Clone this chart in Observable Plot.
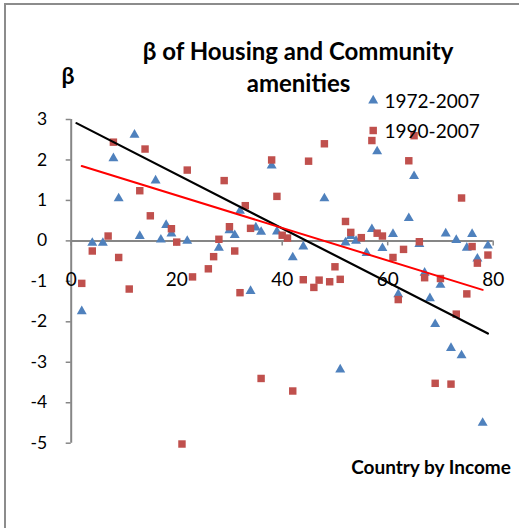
<!DOCTYPE html>
<html>
<head>
<meta charset="utf-8">
<script src="https://cdn.jsdelivr.net/npm/d3@7"></script>
<script src="https://cdn.jsdelivr.net/npm/@observablehq/plot@0.6"></script>
<style>
  html, body { margin: 0; padding: 0; background: #fff; overflow: hidden; }
  #wrap { position: relative; width: 519px; height: 528px; overflow: hidden; }
  #frame { position: absolute; left: 4px; top: 3px; width: 540px; height: 560px; border: 2px solid #8c8c8c; box-sizing: border-box; }
  #chart { position: absolute; left: 0; top: 0; }
</style>
</head>
<body>
<div id="wrap"><div id="frame"></div><div id="chart"></div></div>
<script>
// ---- data ----
const xTicks = [0, 20, 40, 60, 80];
const yTicks = [3, 2, 1, 0, -1, -2, -3, -4, -5];

const blueX = [2,4,6,8,9,12,13,16,17,18,19,22,28,30,31,32,34,35,36,38,39,42,44,48,51,52,53,54,56,57,58,59,61,62,64,65,66,67,68,69,70,71,72,73,74,75,76,77,78,79];
const blueY = [-1.74,-0.05,-0.05,2.04,1.05,2.62,0.12,1.49,0.03,0.39,0.18,0.0,-0.17,0.26,0.14,0.74,-1.24,0.33,0.22,1.86,0.23,-0.41,-0.14,1.05,-3.18,-0.04,0.12,0.0,-0.3,0.29,2.21,-0.18,0.17,-1.32,0.56,1.6,-0.08,-0.79,-1.42,-2.06,-1.09,0.18,-2.65,0.02,-2.83,-0.17,0.17,-0.44,-4.5,-0.12];

const redX = [2,4,7,8,9,11,13,14,15,19,20,21,22,23,26,27,28,29,30,31,32,33,34,36,38,39,40,41,42,44,45,46,47,48,49,50,51,52,53,55,57,58,59,61,62,63,64,65,66,67,69,70,72,73,74,75,76,77,79];
const redY = [-1.05,-0.25,0.12,2.44,-0.41,-1.19,1.24,2.27,0.62,0.30,-0.03,-5.02,1.75,-0.89,-0.69,-0.39,0.04,1.49,0.35,-0.25,-1.28,0.87,0.31,-3.40,2.0,1.1,0.14,0.07,-3.71,-0.96,1.97,-1.15,-0.97,2.4,-1.01,-0.64,-0.95,0.48,0.21,0.08,2.48,0.19,0.12,-0.41,-1.45,-0.21,1.98,2.6,-0.02,-0.91,-3.52,-0.93,-3.54,-1.81,1.06,-1.31,-0.14,-0.55,-0.35];

const trendBlackX = [1, 79];
const trendBlackY = [2.91, -2.29];
const trendRedX = [2, 78];
const trendRedY = [1.85, -1.21];

const seriesNames = ["1972-2007", "1990-2007"];
const titleLines = ["β of Housing and Community", "amenities"];
const yLabel = "β";
const xLabel = "Country by Income";

// ---- build ----
const blue = blueX.map((x, i) => ({x, y: blueY[i]}));
const red = redX.map((x, i) => ({x, y: redY[i]}));
const tBlack = trendBlackX.map((x, i) => ({x, y: trendBlackY[i]}));
const tRed = trendRedX.map((x, i) => ({x, y: trendRedY[i]}));

const W = 519, H = 528;
const ml = 70.7, mr = 26.3, mt = 119, mb = 85.3;
const BLUE = "#4f81bd", RED = "#c0504d", AXIS = "#868686";
const FONT = "Lato, 'Open Sans', sans-serif";
const RT = 3.7, RS = 4.2;

// absolute-positioned annotation helper (frame top-left = (ml, mt))
const lab = (text, X, Y, o = {}) => Plot.text([text], {
  frameAnchor: "top-left", dx: X - ml, dy: Y - mt, text: d => d,
  lineAnchor: "bottom", fill: "black", ...o
});

const chart = Plot.plot({
  width: W, height: H,
  marginLeft: ml, marginRight: mr, marginTop: mt, marginBottom: mb,
  x: {domain: [0, 80], axis: null},
  y: {domain: [-5, 3], axis: null},
  style: {fontFamily: FONT, background: "transparent", overflow: "visible"},
  marks: [
    // axes
    Plot.ruleY([0], {stroke: AXIS, strokeWidth: 2}),
    Plot.ruleX([0], {stroke: AXIS, strokeWidth: 2}),
    Plot.ruleY(yTicks, {y: d => d, x1: 0, x2: 0, insetLeft: -5, stroke: AXIS, strokeWidth: 1.5}),
    Plot.ruleX(xTicks, {x: d => d, y1: 0, y2: 0, insetBottom: -5, stroke: AXIS, strokeWidth: 1.5}),
    Plot.text(yTicks, {x: 0, y: d => d, text: d => (d < 0 ? "-" + Math.abs(d) : String(d)), textAnchor: "end", dx: -24, fontSize: 17.5, fill: "black"}),
    Plot.text(xTicks, {x: d => d, y: 0, text: d => String(d), lineAnchor: "bottom", dy: 45, fontSize: 19, fill: "black"}),
    // data
    Plot.dot(blue, {x: "x", y: "y", symbol: "triangle", r: RT, fill: BLUE, stroke: "none"}),
    Plot.dot(red, {x: "x", y: "y", symbol: "square", r: RS, fill: RED, stroke: "none"}),
    // trend lines
    Plot.line(tBlack, {x: "x", y: "y", stroke: "black", strokeWidth: 2.2}),
    Plot.line(tRed, {x: "x", y: "y", stroke: "#ff0000", strokeWidth: 2}),
    // titles
    lab(titleLines[0], 297.5, 59, {fontSize: 24, fontWeight: "bold", textAnchor: "middle"}),
    lab(titleLines[1], 298, 91, {fontSize: 24, fontWeight: "bold", textAnchor: "middle"}),
    lab(yLabel, 67.5, 83, {fontSize: 23, fontWeight: "bold", textAnchor: "middle"}),
    lab(xLabel, 430.5, 473, {fontSize: 19, fontWeight: "bold", textAnchor: "middle"}),
    // legend
    Plot.dot([seriesNames[0]], {frameAnchor: "top-left", dx: 372.7 - ml, dy: 100 - mt, symbol: "triangle", r: RT, fill: BLUE}),
    Plot.dot([seriesNames[1]], {frameAnchor: "top-left", dx: 372.7 - ml, dy: 130 - mt, symbol: "square", r: RS, fill: RED}),
    lab(seriesNames[0], 384, 107, {fontSize: 19, textAnchor: "start"}),
    lab(seriesNames[1], 384, 137, {fontSize: 19, textAnchor: "start"})
  ]
});
document.getElementById("chart").appendChild(chart);
</script>
</body>
</html>
